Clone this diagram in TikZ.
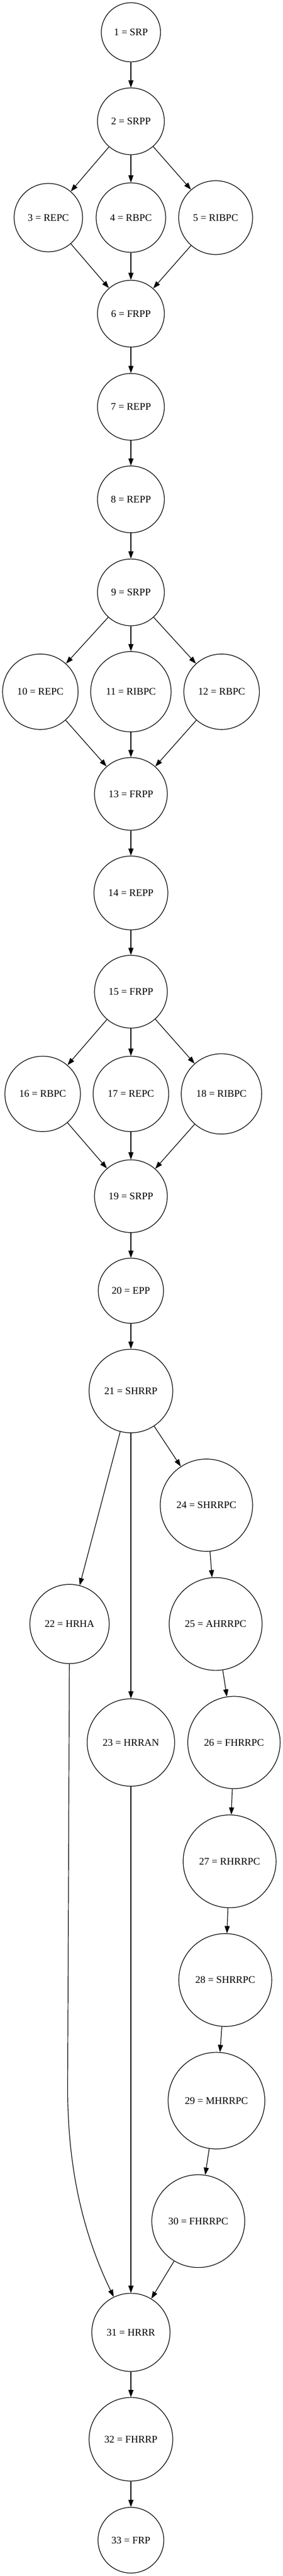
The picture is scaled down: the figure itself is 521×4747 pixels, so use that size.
\documentclass[tikz,border=0pt]{standalone}
\usepackage{fontspec}
\setmainfont{Liberation Serif}
\usetikzlibrary{arrows.meta}
\begin{document}
\begin{tikzpicture}[x=0.75pt,y=-0.75pt,
  st/.style={circle,draw,line width=0.9pt,inner sep=0pt,font=\fontsize{14}{16}\selectfont,minimum size=#1*0.75pt},
  ed/.style={line width=0.9pt,-{Triangle[length=10pt,width=7pt]}}]
\useasboundingbox (0,0) rectangle (521,4747);
\node[st=109] (n1) at (241,59.5) {1 = SRP};
\node[st=123] (n2) at (241,223.5) {2 = SRPP};
\node[st=126] (n3) at (89,401) {3 = REPC};
\node[st=128] (n4) at (241,401) {4 = RBPC};
\node[st=136] (n5) at (397,401) {5 = RIBPC};
\node[st=123] (n6) at (241,578) {6 = FRPP};
\node[st=123] (n7) at (241,749.7) {7 = REPP};
\node[st=123] (n8) at (241,920.2) {8 = REPP};
\node[st=123] (n9) at (241,1091.6) {9 = SRPP};
\node[st=139] (n10) at (74.3,1274.7) {10 = REPC};
\node[st=148] (n11) at (241,1274.7) {11 = RIBPC};
\node[st=139] (n12) at (408,1274.7) {12 = RBPC};
\node[st=134] (n13) at (241,1463) {13 = FRPP};
\node[st=136] (n14) at (241,1645.5) {14 = REPP};
\node[st=134] (n15) at (241,1827.5) {15 = FRPP};
\node[st=139] (n16) at (78.5,2015.8) {16 = RBPC};
\node[st=139] (n17) at (241,2015.8) {17 = REPC};
\node[st=148] (n18) at (407.7,2015.8) {18 = RIBPC};
\node[st=134] (n19) at (241,2204.3) {19 = SRPP};
\node[st=120] (n20) at (241,2378.5) {20 = EPP};
\node[st=154] (n21) at (241,2563.3) {21 = SHRRP};
\node[st=146] (n22) at (128,2992.6) {22 = HRHA};
\node[st=161] (n23) at (241,3211) {23 = HRRAN};
\node[st=170] (n24) at (380,2773.7) {24 = SHRRPC};
\node[st=171] (n25) at (397,2992.6) {25 = AHRRPC};
\node[st=170] (n26) at (430.7,3211) {26 = FHRRPC};
\node[st=171] (n27) at (422.7,3430) {27 = RHRRPC};
\node[st=171] (n28) at (414.7,3648.7) {28 = SHRRPC};
\node[st=178] (n29) at (398.5,3871) {29 = MHRRPC};
\node[st=171] (n30) at (365,4093) {30 = FHRRPC};
\node[st=144] (n31) at (241,4298) {31 = HRRR};
\node[st=154] (n32) at (241,4495) {32 = FHRRP};
\node[st=121] (n33) at (241,4681) {33 = FRP};
\coordinate (c22) at (124.5,3850);
\foreach \a/\b in {1/2,2/3,2/4,2/5,3/6,4/6,5/6,6/7,7/8,8/9,9/10,9/11,9/12,10/13,11/13,12/13,13/14,14/15,15/16,15/17,15/18,16/19,17/19,18/19,19/20,20/21,21/22,21/23,21/24,24/25,25/26,26/27,27/28,28/29,29/30,30/31,23/31,31/32,32/33}
  \draw[ed] (n\a) -- (n\b);
\draw[ed] (n22) -- (c22) .. controls (125,3990) and (150,4110) .. (n31);
\end{tikzpicture}
\end{document}
